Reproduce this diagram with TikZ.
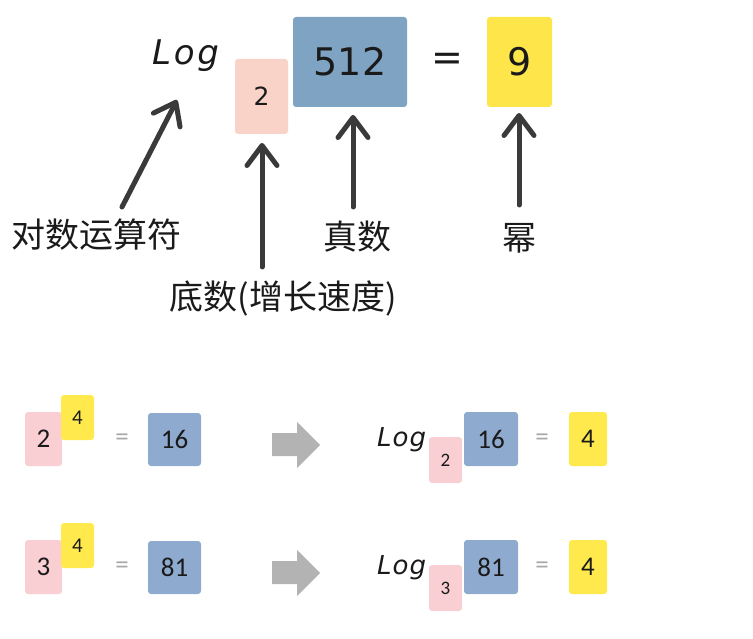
\documentclass[tikz,border=0pt]{standalone}
\usepackage{fontspec}
\setmainfont{DejaVu Sans}
\newfontfamily\cjkfont{Noto Sans CJK SC}
\newfontfamily\califont{Carlito}
\usetikzlibrary{arrows.meta}
\definecolor{pinkT}{HTML}{F9D2C8}
\definecolor{blueT}{HTML}{7FA3C2}
\definecolor{yellowT}{HTML}{FEE54A}
\definecolor{pinkB}{HTML}{F9CFD4}
\definecolor{blueB}{HTML}{8FAACF}
\definecolor{yellowB}{HTML}{FFE94C}
\definecolor{arrowc}{HTML}{3A3A3A}
\definecolor{grayarr}{HTML}{B3B3B3}
\definecolor{eqgray}{HTML}{A8A8A8}
\definecolor{txt}{HTML}{1A1A1A}
\tikzset{
  card/.style={rounded corners=3pt, inner sep=0pt, text=txt, align=center},
  bigtxt/.style={font=\fontsize{38}{40}\selectfont},
  lbl/.style={font=\cjkfont\fontsize{34}{36}\selectfont, text=txt, inner sep=0pt},
  smalltxt/.style={font=\califont\fontsize{27}{29}\selectfont},
  arr/.style={draw=arrowc, line width=5pt, line cap=round,
    -{Straight Barb[length=20pt,width=30pt,round]}},
  blockarr/.style={fill=grayarr, draw=none}
}
\begin{document}
\begin{tikzpicture}[x=1pt,y=-1pt]
\useasboundingbox (0,0) rectangle (753,639);
% ---------- top formula ----------
\node[anchor=base west, inner sep=0pt, text=txt, font=\itshape\fontsize{34}{36}\selectfont\addfontfeature{LetterSpace=8}] (logT) at (152,65) {Log};
\node[card, fill=pinkT, minimum width=53pt, minimum height=75pt, font=\fontsize{25}{27}\selectfont] (baseT) at (261.5,96.5) {2};
\node[card, fill=blueT, minimum width=114pt, minimum height=90pt, bigtxt] (numT) at (350,62) {512};
\node[inner sep=0pt, text=txt, bigtxt] (eqT) at (447,62) {=};
\node[card, fill=yellowT, minimum width=65pt, minimum height=90pt, bigtxt] (powT) at (519.5,62) {9};
% labels
\node[lbl] (l1) at (97,235) {对数运算符};
\node[lbl] (l2) at (283,298) {底数(增长速度)};
\node[lbl] (l3) at (357,237) {真数};
\node[lbl] (l4) at (519,238) {幂};
% arrows
\coordinate (a1s) at (122,207); \coordinate (a1e) at (177,100);
\coordinate (a2s) at (262,267); \coordinate (a2e) at (262,143);
\coordinate (a3s) at (353,207); \coordinate (a3e) at (353,115);
\coordinate (a4s) at (519,205); \coordinate (a4e) at (519,113);
\draw[arr] (a1s) -- (a1e);
\draw[arr] (a2s) -- (a2e);
\draw[arr] (a3s) -- (a3e);
\draw[arr] (a4s) -- (a4e);
% ---------- bottom rows ----------
\foreach \dy/\b/\n/\r in {0/2/16/1, 128/3/81/2}{
  \begin{scope}[yshift=-\dy pt]
  \node[card, fill=pinkB, minimum width=37pt, minimum height=54pt, smalltxt] (pL\r) at (43.5,439) {\b};
  \node[card, fill=yellowB, minimum width=33pt, minimum height=45pt, font=\califont\fontsize{21}{23}\selectfont] (yL\r) at (77.5,417.5) {4};
  \node[inner sep=0pt, text=eqgray, smalltxt] (eL\r) at (122,440) {=};
  \node[card, fill=blueB, minimum width=53pt, minimum height=53pt, smalltxt] (bL\r) at (174.5,439.5) {\n};
  \fill[blockarr] (272,433) -- (297,433) -- (297,422) -- (320,445) -- (297,468) -- (297,456) -- (272,456) -- cycle;
  \node[anchor=west, inner sep=0pt, text=txt, font=\itshape\fontsize{26}{28}\selectfont\addfontfeature{LetterSpace=4}] (lR\r) at (377,440) {Log};
  \node[card, fill=pinkB, minimum width=33pt, minimum height=46pt, font=\califont\fontsize{19}{21}\selectfont] (pR\r) at (445.5,460) {\b};
  \node[card, fill=blueB, minimum width=54pt, minimum height=54pt, smalltxt] (bR\r) at (491,439) {\n};
  \node[inner sep=0pt, text=eqgray, smalltxt] (eR\r) at (542,440) {=};
  \node[card, fill=yellowB, minimum width=38pt, minimum height=54pt, smalltxt] (yR\r) at (588,439) {4};
  \end{scope}
}
\end{tikzpicture}
\end{document}
